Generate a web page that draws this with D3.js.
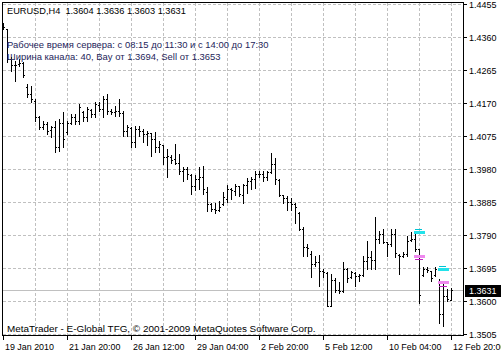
<!DOCTYPE html>
<html><head><meta charset="utf-8">
<script src="https://cdn.jsdelivr.net/npm/d3@7"></script>
<style>html,body{margin:0;padding:0;background:#fff;overflow:hidden}</style>
</head><body>
<svg id="c" width="501" height="354"></svg>
<script>
const opens = [1.4394,1.4382,1.4296,1.4279,1.4282,1.4286,1.4215,1.4195,1.4175,1.4129,
 1.4100,1.4109,1.4092,1.4100,1.4043,1.4112,1.4086,1.4112,1.4129,1.4117,
 1.4143,1.4129,1.4149,1.4138,1.4164,1.4152,1.4181,1.4146,1.4143,1.4146,
 1.4141,1.4089,1.4097,1.4057,1.4094,1.4089,1.4080,1.4083,1.4066,1.4043,
 1.4048,1.4014,1.4014,1.4008,1.3997,1.3973,1.3979,1.3962,1.3930,1.3950,
 1.3956,1.3913,1.3880,1.3864,1.3862,1.3878,1.3893,1.3922,1.3916,1.3930,
 1.3904,1.3933,1.3945,1.3950,1.3967,1.3966,1.3956,1.3970,1.3994,1.3948,
 1.3904,1.3896,1.3885,1.3878,1.3853,1.3806,1.3755,1.3734,1.3706,1.3712,
 1.3686,1.3680,1.3587,1.3660,1.3631,1.3628,1.3691,1.3668,1.3680,1.3671,
 1.3674,1.3714,1.3726,1.3717,1.3778,1.3792,1.3770,1.3763,1.3792,1.3732,
 1.3729,1.3734,1.3775,1.3778,1.3749,1.3674,1.3691,1.3686,1.3674,1.3657,
 1.3562,1.3613,1.3604];
const highs = [1.4400,1.4384,1.4302,1.4290,1.4296,1.4287,1.4224,1.4218,1.4181,1.4132,
 1.4117,1.4115,1.4103,1.4117,1.4123,1.4143,1.4117,1.4138,1.4138,1.4166,
 1.4146,1.4158,1.4152,1.4172,1.4172,1.4189,1.4195,1.4152,1.4161,1.4181,
 1.4146,1.4106,1.4100,1.4103,1.4103,1.4094,1.4089,1.4084,1.4086,1.4060,
 1.4049,1.4037,1.4020,1.4051,1.4023,1.3985,1.3985,1.3965,1.3962,1.3985,
 1.3988,1.3927,1.3883,1.3883,1.3889,1.3913,1.3933,1.3925,1.3936,1.3931,
 1.3936,1.3953,1.3956,1.3973,1.3973,1.3973,1.3973,1.4026,1.4011,1.3950,
 1.3905,1.3901,1.3896,1.3883,1.3856,1.3812,1.3763,1.3743,1.3729,1.3732,
 1.3691,1.3683,1.3677,1.3665,1.3654,1.3712,1.3694,1.3686,1.3683,1.3677,
 1.3729,1.3772,1.3743,1.3841,1.3801,1.3806,1.3771,1.3806,1.3806,1.3734,
 1.3740,1.3786,1.3798,1.3798,1.3750,1.3697,1.3697,1.3687,1.3697,1.3663,
 1.3648,1.3634,1.3636];
const lows = [1.4382,1.4287,1.4261,1.4233,1.4276,1.4244,1.4187,1.4172,1.4117,1.4094,
 1.4094,1.4080,1.4071,1.4028,1.4031,1.4043,1.4080,1.4109,1.4109,1.4109,
 1.4117,1.4117,1.4129,1.4129,1.4146,1.4129,1.4138,1.4138,1.4132,1.4132,
 1.4074,1.4074,1.4043,1.4043,1.4074,1.4057,1.4048,1.4017,1.4028,1.4028,
 1.3994,1.3956,1.3997,1.3994,1.3965,1.3945,1.3950,1.3907,1.3919,1.3922,
 1.3907,1.3858,1.3858,1.3853,1.3858,1.3876,1.3885,1.3893,1.3904,1.3901,
 1.3883,1.3910,1.3922,1.3925,1.3956,1.3945,1.3948,1.3969,1.3936,1.3901,
 1.3883,1.3861,1.3861,1.3824,1.3804,1.3729,1.3729,1.3668,1.3700,1.3642,
 1.3668,1.3585,1.3585,1.3625,1.3622,1.3627,1.3654,1.3666,1.3642,1.3657,
 1.3671,1.3691,1.3691,1.3691,1.3768,1.3768,1.3729,1.3758,1.3726,1.3677,
 1.3726,1.3729,1.3772,1.3743,1.3593,1.3671,1.3683,1.3657,1.3671,1.3536,
 1.3527,1.3599,1.3603];
const closes = [1.4388,1.4296,1.4279,1.4279,1.4286,1.4250,1.4195,1.4181,1.4129,1.4100,
 1.4109,1.4089,1.4100,1.4043,1.4112,1.4066,1.4112,1.4129,1.4117,1.4158,
 1.4129,1.4152,1.4138,1.4166,1.4152,1.4181,1.4146,1.4143,1.4146,1.4141,
 1.4089,1.4100,1.4057,1.4094,1.4089,1.4080,1.4083,1.4066,1.4043,1.4051,
 1.4014,1.4017,1.4005,1.3997,1.3973,1.3979,1.3965,1.3930,1.3950,1.3956,
 1.3922,1.3878,1.3864,1.3862,1.3870,1.3899,1.3922,1.3919,1.3930,1.3907,
 1.3933,1.3945,1.3950,1.3967,1.3966,1.3956,1.3970,1.3994,1.3950,1.3904,
 1.3896,1.3885,1.3878,1.3870,1.3806,1.3755,1.3754,1.3706,1.3712,1.3686,
 1.3683,1.3587,1.3660,1.3631,1.3628,1.3691,1.3665,1.3683,1.3671,1.3674,
 1.3714,1.3726,1.3717,1.3778,1.3792,1.3770,1.3763,1.3792,1.3737,1.3729,
 1.3734,1.3772,1.3778,1.3749,1.3616,1.3691,1.3688,1.3665,1.3691,1.3562,
 1.3613,1.3605,1.3631];

const xTickBars = [0,16,32,48,64,80,96,112];
const xTickLabels = ["19 Jan 2010","21 Jan 20:00","26 Jan 12:00","29 Jan 04:00","2 Feb 20:00","5 Feb 12:00","10 Feb 04:00","12 Feb 20:00"];
const xGridBars = [8,16,24,32,40,48,56,64,72,80,88,96,104,112];
const yTickValues = [1.4455,1.4360,1.4265,1.4170,1.4075,1.3980,1.3885,1.3790,1.3695,1.3600,1.3505];
const bidPrice = 1.3631;
const markerBars = [104,110];
const buyLevels = [1.3800,1.3693];
const buyThinLevels = [1.3808,1.3701];
const sellLevels = [1.3730,1.3654];
const sellThinLevels = [1.3722,1.3642];
const titleText = "EURUSD,H4  1.3604 1.3636 1.3603 1.3631";
const infoLine1 = "Рабочее время сервера: с 08:15 до 11:30 и с 14:00 до 17:30";
const infoLine2 = "Ширина канала: 40, Bay от 1.3694, Sell от 1.3653";
const footerText = "MetaTrader - E-Global TFG, © 2001-2009 MetaQuotes Software Corp.";

const FONT = "'Liberation Sans', Arial, sans-serif";
const svg = d3.select("#c");
svg.append("rect").attr("width",501).attr("height",354).attr("fill","#fff");

const FL = 2, FR = 463, FT = 2, FB = 335;
const x = d3.scaleLinear().domain([0, 112]).range([3, 451]);
const y = d3.scaleLinear().domain([1.3505, 1.4455]).range([334.5, 4.5]);
const row = v => Math.floor(y(v));

const crisp = svg.append("g").attr("shape-rendering","crispEdges");

// grid
const grid = crisp.append("g").attr("stroke","#c0c0c0").attr("stroke-width",1).attr("stroke-dasharray","3,2");
grid.selectAll("line.h").data(yTickValues).join("line").attr("class","h")
  .attr("x1", FL+1).attr("x2", FR).attr("y1", d => row(d)+0.5).attr("y2", d => row(d)+0.5);
grid.selectAll("line.v").data(xGridBars).join("line").attr("class","v")
  .attr("x1", d => x(d)+0.5).attr("x2", d => x(d)+0.5).attr("y1", FT+1).attr("y2", FB);

// bid line
crisp.append("line").attr("x1",FL+1).attr("x2",FR).attr("y1",row(bidPrice)+0.5).attr("y2",row(bidPrice)+0.5)
  .attr("stroke","#c0c0c0").attr("stroke-width",1);

// bars
const data = opens.map((o,i)=>({i, o, h:highs[i], l:lows[i], c:closes[i]}));
const bars = crisp.append("g").attr("fill","#000");
bars.selectAll("rect.hl").data(data).join("rect").attr("class","hl")
  .attr("x", d => x(d.i)).attr("y", d => row(d.h)).attr("width",1)
  .attr("height", d => Math.max(1, row(d.l)-row(d.h)+1));
bars.selectAll("rect.o").data(data).join("rect").attr("class","o")
  .attr("x", d => x(d.i)-1).attr("y", d => row(d.o)).attr("width",1).attr("height",1);
bars.selectAll("rect.c").data(data).join("rect").attr("class","c")
  .attr("x", d => x(d.i)+1).attr("y", d => row(d.c)).attr("width",1).attr("height",1);

// channel markers
const mk = crisp.append("g");
markerBars.forEach((b,k)=>{
  mk.append("rect").attr("x",x(b)-4).attr("y",row(buyThinLevels[k])).attr("width",7).attr("height",1).attr("fill","#00c4d4");
  mk.append("rect").attr("x",x(b)-5).attr("y",row(buyLevels[k])-1).attr("width",11).attr("height",3).attr("fill","#22e2ea");
  mk.append("rect").attr("x",x(b)-5).attr("y",row(sellLevels[k])-1).attr("width",11).attr("height",3).attr("fill","#ee88ee");
  mk.append("rect").attr("x",x(b)-4).attr("y",row(sellThinLevels[k])).attr("width",8).attr("height",1).attr("fill","#c020c0");
});

// frame
const fr = crisp.append("g").attr("fill","#000");
fr.append("rect").attr("x",FL).attr("y",FT).attr("width",FR-FL+1).attr("height",1);
fr.append("rect").attr("x",FL).attr("y",FB).attr("width",FR-FL+1).attr("height",1);
fr.append("rect").attr("x",FL).attr("y",FT).attr("width",1).attr("height",FB-FT+1);
fr.append("rect").attr("x",FR).attr("y",FT).attr("width",1).attr("height",FB-FT+1);

// y ticks
fr.selectAll("rect.yt").data(yTickValues).join("rect").attr("class","yt")
  .attr("x",FR+1).attr("y",d=>row(d)).attr("width",3).attr("height",1);
// x ticks
fr.selectAll("rect.xt").data(xTickBars).join("rect").attr("class","xt")
  .attr("x",d=>x(d)).attr("y",FB+1).attr("width",1).attr("height",4);

function fitSize(str, target){
  const t = svg.append("text").attr("font-family",FONT).attr("font-size",10).style("white-space","pre").text(str);
  const w = t.node().getComputedTextLength();
  t.remove();
  return 10*target/w;
}

// y labels
const fmt = d3.format(".4f");
const ySize = fitSize("1.4455", 27.5);
svg.append("g").selectAll("text").data(yTickValues).join("text")
  .attr("x",469).attr("y",d=>row(d)+4).attr("font-family",FONT).attr("font-size",ySize)
  .attr("fill","#000").text(d=>fmt(d));

// current price box
svg.append("rect").attr("x",465).attr("y",row(bidPrice)-5).attr("width",36).attr("height",12).attr("fill","#000")
  .attr("shape-rendering","crispEdges");
svg.append("text").attr("x",469).attr("y",row(bidPrice)+4).attr("font-family",FONT).attr("font-size",ySize)
  .attr("fill","#fff").text(fmt(bidPrice));

// x labels
const xSize = fitSize("21 Jan 20:00", 51.5);
svg.append("g").selectAll("text").data(xTickBars).join("text")
  .attr("x",d=>x(d)+2).attr("y",350).attr("font-family",FONT).attr("font-size",xSize)
  .attr("fill","#000").text((d,i)=>xTickLabels[i]);

// texts
function label(str, xx, yy, target, color){
  svg.append("text").attr("x",xx).attr("y",yy).attr("font-family",FONT)
    .attr("font-size",fitSize(str,target)).attr("fill",color).style("white-space","pre").text(str);
}
label(titleText, 7, 13.5, 179, "#000");
label(infoLine1, 7, 47.5, 262, "#25255a");
label(infoLine2, 7, 59.5, 214, "#25255a");
label(footerText, 7, 331.5, 309, "#000");
</script>
</body></html>
